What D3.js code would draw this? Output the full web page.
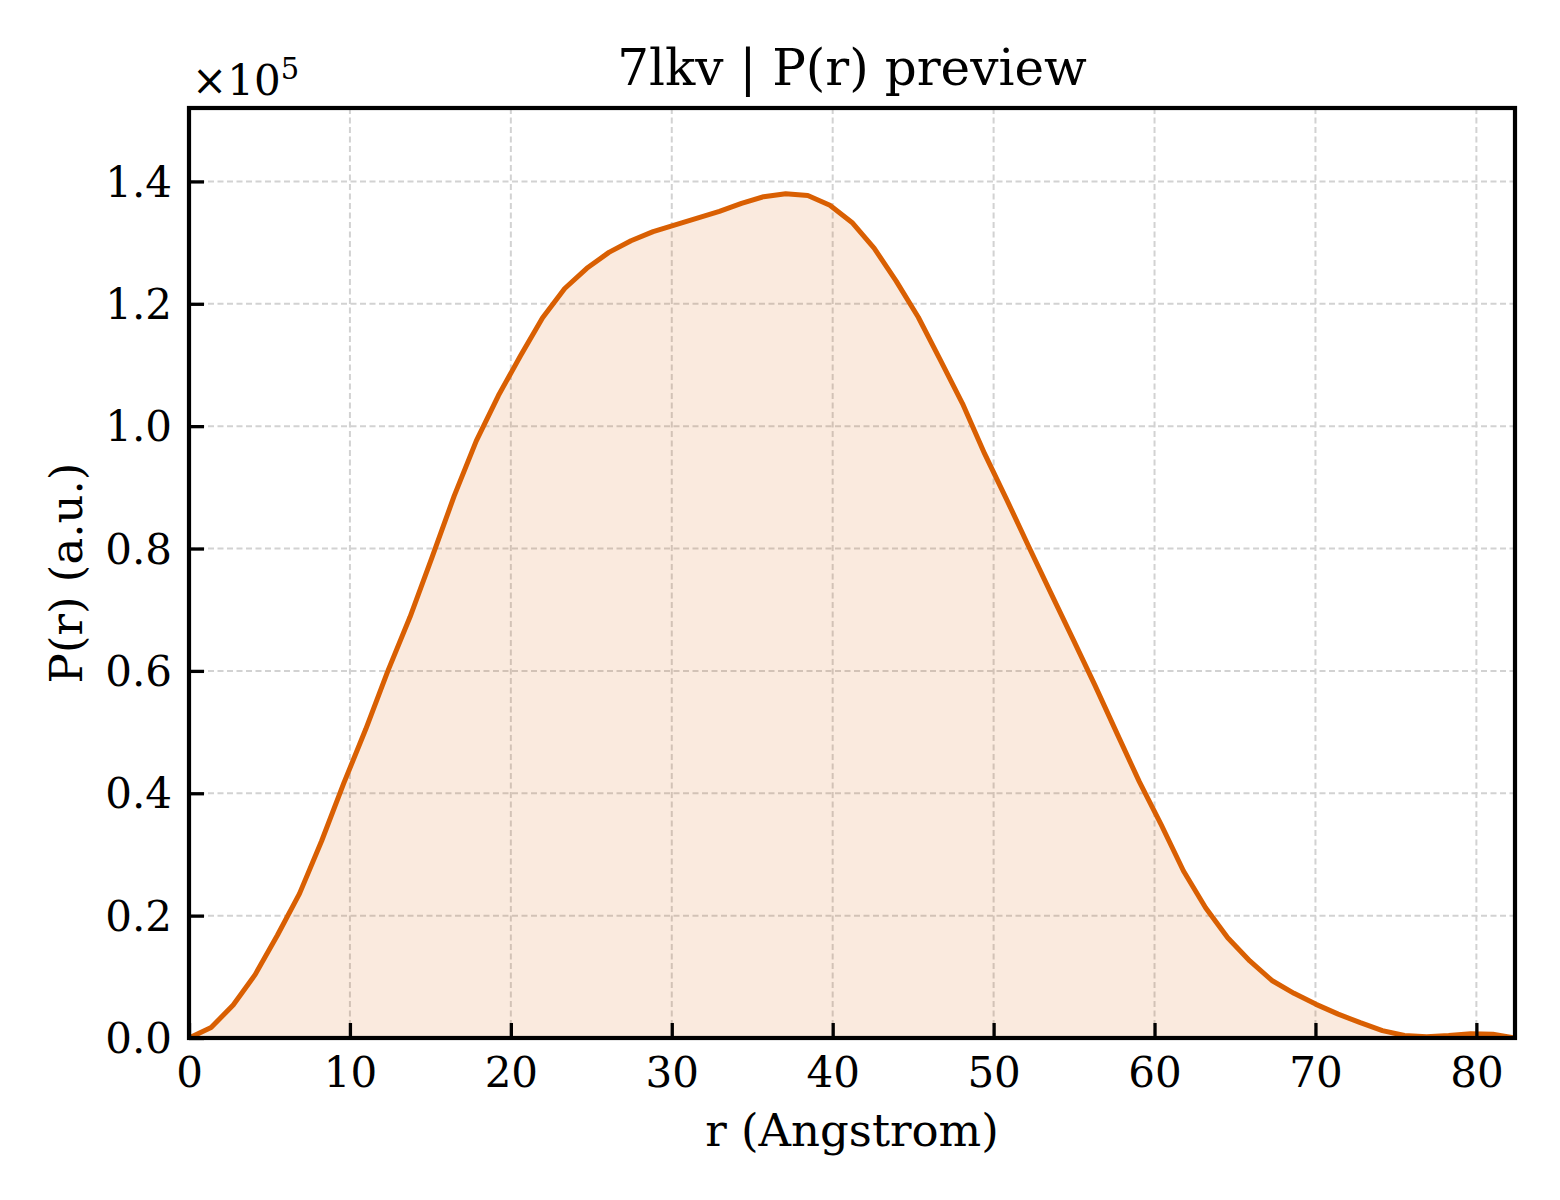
<!DOCTYPE html>
<html>
<head>
<meta charset="utf-8">
<script src="https://cdn.jsdelivr.net/npm/d3@7/dist/d3.min.js"></script>
<style>
  html, body { margin: 0; padding: 0; background: #fff; }
  svg { display: block; }
  text { font-family: "DejaVu Serif", serif; fill: #000; }
</style>
</head>
<body>
<svg id="chart" width="1560" height="1200"></svg>
<script>
// ---- data (P(r) in arbitrary units, r in Angstrom) ----
const rStep = 82.4 / 60;
const rValues = d3.range(61).map(i => +(i * rStep).toFixed(3));
const prValues = [
  0, 1700, 5400, 10400, 16800, 23600, 32200, 41600, 50500, 60000,
  68800, 78600, 88600, 97600, 105000, 111500, 117700, 122500, 125800, 128400,
  130300, 131800, 132900, 134000, 135100, 136400, 137500, 138000, 137700, 136100,
  133300, 129100, 123700, 117800, 110800, 103700, 95500, 88000, 80300, 72700,
  65200, 57600, 49700, 41900, 34800, 27300, 21300, 16400, 12600, 9400,
  7300, 5500, 3900, 2500, 1200, 400, 200, 400, 700, 600, 0
];
const xTicks = [0, 10, 20, 30, 40, 50, 60, 70, 80];
const yTicks = [0, 20000, 40000, 60000, 80000, 100000, 120000, 140000];
const titleText = "7lkv | P(r) preview";
const xLabelText = "r (Angstrom)";
const yLabelText = "P(r) (a.u.)";

const data = rValues.map((r, i) => ({ r, p: prValues[i] }));

// ---- layout ----
const plot = { left: 189, right: 1515, top: 108, bottom: 1038 };
const lineColor = "#d95f02";

const svg = d3.select("#chart");

const x = d3.scaleLinear().domain([0, 82.4]).range([plot.left, plot.right]);
const y = d3.scaleLinear().domain([0, 152000]).range([plot.bottom, plot.top]);

svg.append("defs").append("clipPath").attr("id", "clip")
  .append("rect")
  .attr("x", plot.left).attr("y", plot.top)
  .attr("width", plot.right - plot.left).attr("height", plot.bottom - plot.top);

// grid
const grid = svg.append("g").attr("class", "grid");
grid.selectAll("line.gx").data(xTicks).join("line")
  .attr("x1", d => x(d)).attr("x2", d => x(d))
  .attr("y1", plot.top).attr("y2", plot.bottom)
  .attr("stroke", "#d2d2d2").attr("stroke-width", 2)
  .attr("stroke-dasharray", "6,3.5");
grid.selectAll("line.gy").data(yTicks).join("line")
  .attr("x1", plot.left).attr("x2", plot.right)
  .attr("y1", d => y(d)).attr("y2", d => y(d))
  .attr("stroke", "#d2d2d2").attr("stroke-width", 2)
  .attr("stroke-dasharray", "6,3.5");

// area fill
const area = d3.area().x(d => x(d.r)).y0(y(0)).y1(d => y(d.p));
svg.append("path").datum(data)
  .attr("clip-path", "url(#clip)")
  .attr("d", area)
  .attr("fill", lineColor).attr("fill-opacity", 0.13);

// line
const line = d3.line().x(d => x(d.r)).y(d => y(d.p));
svg.append("path").datum(data)
  .attr("clip-path", "url(#clip)")
  .attr("d", line)
  .attr("fill", "none").attr("stroke", lineColor)
  .attr("stroke-width", 5).attr("stroke-linejoin", "round");

// axes (ticks inward)
const xAxis = d3.axisBottom(x).tickValues(xTicks).tickSizeInner(-15).tickSizeOuter(0)
  .tickPadding(0).tickFormat(d3.format("d"));
const gx = svg.append("g").attr("transform", `translate(0,${plot.bottom})`).call(xAxis);
gx.select(".domain").remove();
gx.selectAll(".tick line").attr("stroke", "#000").attr("stroke-width", 3.3);
gx.selectAll(".tick text")
  .attr("y", 0).attr("dy", null)
  .attr("transform", "translate(0,49)")
  .style("font-family", "DejaVu Serif").style("font-size", "42px")
  .attr("fill", "#000");

const yAxis = d3.axisLeft(y).tickValues(yTicks).tickSizeInner(-15).tickSizeOuter(0)
  .tickPadding(0).tickFormat(d => d3.format(".1f")(d / 1e5));
const gy = svg.append("g").attr("transform", `translate(${plot.left},0)`).call(yAxis);
gy.select(".domain").remove();
gy.selectAll(".tick line").attr("stroke", "#000").attr("stroke-width", 3.3);
gy.selectAll(".tick text")
  .attr("x", -17).attr("dy", "0.35em")
  .style("font-family", "DejaVu Serif").style("font-size", "42px")
  .attr("fill", "#000");

// frame
svg.append("rect")
  .attr("x", plot.left).attr("y", plot.top)
  .attr("width", plot.right - plot.left).attr("height", plot.bottom - plot.top)
  .attr("fill", "none").attr("stroke", "#000").attr("stroke-width", 4.2);

// offset text ×10^5
const off = svg.append("text")
  .attr("x", 192).attr("y", 95)
  .style("font-size", "42px");
off.append("tspan").text("×10");
off.append("tspan").text("5").attr("dy", -16).style("font-size", "29px");

// title
svg.append("text")
  .attr("x", (plot.left + plot.right) / 2).attr("y", 85)
  .attr("text-anchor", "middle")
  .style("font-size", "50px")
  .text(titleText);

// x label
svg.append("text")
  .attr("x", (plot.left + plot.right) / 2).attr("y", 1146)
  .attr("text-anchor", "middle")
  .style("font-size", "45px")
  .text(xLabelText);

// y label
svg.append("text")
  .attr("transform", `translate(82,${(plot.top + plot.bottom) / 2}) rotate(-90)`)
  .attr("text-anchor", "middle")
  .style("font-size", "45px")
  .text(yLabelText);
</script>
</body>
</html>
